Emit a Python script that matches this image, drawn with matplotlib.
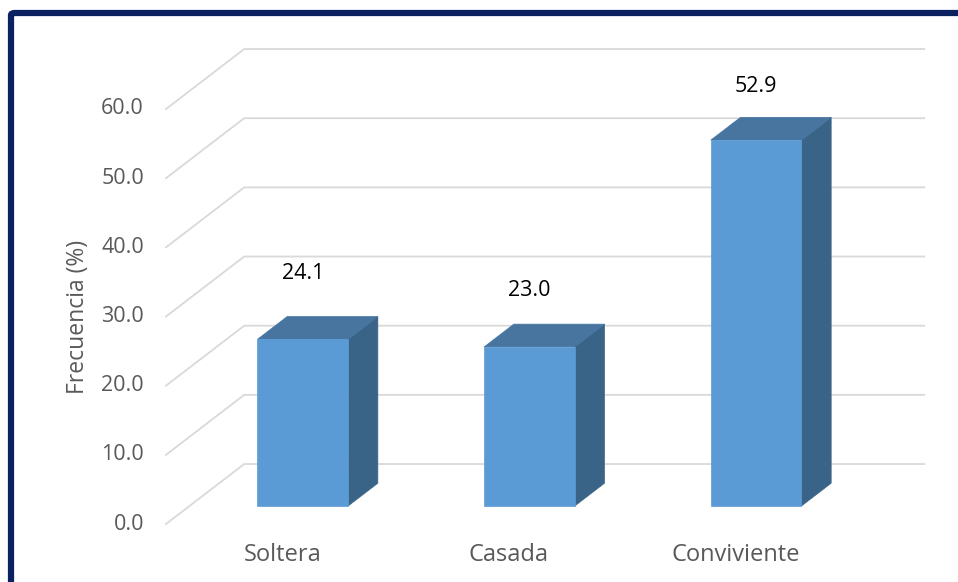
import numpy as np
import matplotlib.pyplot as plt
from matplotlib.patches import Polygon, FancyBboxPatch

categorias = ['Soltera', 'Casada', 'Conviviente']
frecuencia = [24.1, 23.0, 52.9]
ticks_y = [0, 10, 20, 30, 40, 50, 60]

# pseudo-3D geometry (data units): depth offset of the back wall and bar slab
DX, DY = 0.345, 8.67
BAR_W = 0.40
D0, D1 = 0.30, 0.68

FRONT = '#5b9bd5'
TOP = '#4775a0'
SIDE = '#3a6487'
GRID = '#d9d9d9'
TXT = '#595959'

plt.rcParams['font.family'] = ['Open Sans', 'DejaVu Sans']

fig = plt.figure(figsize=(9.58, 5.82), dpi=100)
W, H = 958.0, 582.0
ax = fig.add_axes([166 / W, (H - 524) / H, 680 / W, 415 / H])
ax.set_xlim(-0.5, 2.5)
ax.set_ylim(0, 60)
ax.axis('off')


def P(x, y, d):
    return (x + d * DX, y + d * DY)


# gridlines: diagonal on the side wall, horizontal on the back wall
for t in ticks_y:
    xs = [-0.5, -0.5 + DX, 2.5 + DX]
    ys = [t, t + DY, t + DY]
    ax.plot(xs, ys, color=GRID, lw=1.3, clip_on=False, zorder=1,
            solid_joinstyle='miter')
    ax.annotate(f'{t:.1f}', (-0.5, t), xytext=(-22, 0), textcoords='offset pixels',
                ha='right', va='center', fontsize=15.5, color=TXT)

for i, v in enumerate(frecuencia):
    x0, x1 = i - BAR_W / 2, i + BAR_W / 2
    front = [P(x0, 0, D0), P(x1, 0, D0), P(x1, v, D0), P(x0, v, D0)]
    top = [P(x0, v, D0), P(x1, v, D0), P(x1, v, D1), P(x0, v, D1)]
    side = [P(x1, 0, D0), P(x1, 0, D1), P(x1, v, D1), P(x1, v, D0)]
    for poly, col in [(side, SIDE), (top, TOP), (front, FRONT)]:
        ax.add_patch(Polygon(poly, closed=True, facecolor=col, edgecolor=col,
                             lw=0.5, clip_on=False, zorder=3))

label_pad = [43, 34, 31]
for i, v in enumerate(frecuencia):
    cx, cy = P(i, v, D1)
    ax.annotate(f'{v:.1f}', (P(i, v, D0)[0], cy), xytext=(0, label_pad[i]),
                textcoords='offset pixels', ha='center', va='center',
                fontsize=15.5, color='black', zorder=5)

for i, c in enumerate(categorias):
    ax.annotate(c, (i, 0), xytext=(3, -31), textcoords='offset pixels',
                ha='center', va='center', fontsize=17, color=TXT)

ax.annotate('Frecuencia (%)', (-0.5, 30), xytext=(-88, 0), textcoords='offset pixels',
            ha='center', va='center', rotation=90, fontsize=16.5, color=TXT)

# dark navy frame around the chart area
frame = FancyBboxPatch((11 / W, -0.05), 1.0, (H - 13) / H + 0.05,
                       boxstyle='round,pad=0,rounding_size=0.004',
                       transform=fig.transFigure, facecolor='none',
                       edgecolor='#0c2260', lw=4.5, clip_on=False)
fig.add_artist(frame)

fig.savefig('out.png', dpi=100)
